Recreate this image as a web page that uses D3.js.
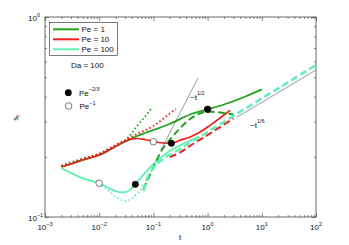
<!DOCTYPE html>
<html>
<head>
<meta charset="utf-8">
<script src="https://cdn.jsdelivr.net/npm/d3@7"></script>
<style>
  body { margin: 0; background: #fff; }
  text { font-family: "Liberation Sans", Arial, Helvetica, sans-serif; fill: #111; }
</style>
</head>
<body>
<script>
// ---- data: [t, s_f] ----
// Pe = 1 (green)
var pe1Full  = [[0.002,0.1778],[0.003,0.1841],[0.005,0.1928],[0.01,0.2042],[0.02,0.2252],[0.03,0.2385],
                [0.04,0.2469],[0.05,0.2541],[0.07,0.2630],[0.1,0.2723],[0.2,0.2917],[0.5,0.3273],
                [1,0.3456],[2,0.3652],[5,0.4004],[10,0.4349]];
var pe1Short = [[0.002,0.1799],[0.005,0.1950],[0.01,0.2065],[0.02,0.2278],[0.03,0.2413],[0.04,0.2630],
                [0.05,0.2851],[0.07,0.3181],[0.09,0.3467]];
var pe1Long  = [[0.065,0.1372],[0.1,0.1768],[0.14,0.2138],[0.2,0.2427],[0.3,0.2754],[0.45,0.3055],
                [0.7,0.3281],[1,0.3369],[1.7,0.3330],[3,0.3255]];
// Pe = 10 (red)
var pe10Full  = [[0.002,0.1778],[0.003,0.1841],[0.005,0.1928],[0.01,0.2042],[0.02,0.2252],[0.03,0.2385],
                 [0.04,0.2455],[0.05,0.2469],[0.07,0.2441],[0.1,0.2385],[0.15,0.2344],[0.215,0.2336],
                 [0.3,0.2413],[0.5,0.2526],[0.7,0.2646],[1,0.2818],[2,0.3236],[2.6,0.3412]];
var pe10Short = [[0.002,0.1809],[0.005,0.1961],[0.01,0.2077],[0.02,0.2291],[0.05,0.2600],[0.1,0.2851],
                 [0.15,0.3090],[0.2,0.3292],[0.26,0.3467]];
var pe10Long  = [[0.2,0.1995],[0.3,0.2089],[0.5,0.2291],[1,0.2570],[2,0.2900],[3,0.3108]];
// Pe = 100 (aquamarine)
var pe100Full  = [[0.002,0.1758],[0.003,0.1660],[0.005,0.1558],[0.01,0.1474],[0.015,0.1396],[0.02,0.1349],
                  [0.025,0.1329],[0.03,0.1329],[0.04,0.1396],[0.0464,0.1457],[0.06,0.1585],[0.07,0.1660],
                  [0.1,0.1841],[0.15,0.2018],[0.2,0.2138],[0.3,0.2265],[0.5,0.2427],[0.7,0.2527]];
var pe100Short = [[0.002,0.1758],[0.005,0.1558],[0.01,0.1462],[0.015,0.1349],[0.02,0.1266],[0.025,0.1216],
                  [0.03,0.1202],[0.04,0.1238],[0.05,0.1311],[0.06,0.1380],[0.065,0.1479]];
var pe100Long  = [[0.066,0.1349],[0.075,0.1531],[0.1,0.1758],[0.15,0.1950],[0.25,0.2113],[0.5,0.2371],
                  [1,0.2661],[3,0.3199],[10,0.3917],[30,0.4705],[100,0.5754]];

// markers: filled = t ~ Pe^-2/3, open = t ~ Pe^-1
var dotsPeTwoThirds = [[0.0464,0.1457],[0.215,0.2336],[1,0.3456]];
var dotsPeOne       = [[0.01,0.1474],[0.1,0.2379],[1,0.3456]];

// power-law guides
var guideHalf  = [[0.138,0.2163],[0.665,0.4955]];
var guideSixth = [[3.44,0.315],[100,0.543]];

var legendLabels = ["Pe = 1", "Pe = 10", "Pe = 100"];
var xTickExp = [-3, -2, -1, 0, 1, 2];
var yTickExp = [-1, 0];

var green = "#22a31c", red = "#f21a1a", aqua = "#66efb5";

var width = 349, height = 245;
var x = d3.scaleLog().domain([1e-3, 1e2]).range([45, 316]);
var y = d3.scaleLog().domain([0.1, 1]).range([217, 17]);

var svg = d3.select("body").append("svg")
    .attr("width", width)
    .attr("height", height);

svg.append("defs").append("clipPath").attr("id", "plotclip")
  .append("rect").attr("x", 45).attr("y", 17).attr("width", 271).attr("height", 200);

// ---- axes (MATLAB style, ticks inward on all sides) ----
var xMinor = [], yMinor = [];
xTickExp.slice(0, -1).forEach(function(e) {
  for (var k = 2; k < 10; k++) xMinor.push(k * Math.pow(10, e));
});
for (var k = 2; k < 10; k++) yMinor.push(k * 0.1);
var xMajor = xTickExp.map(function(e) { return Math.pow(10, e); });
var yMajor = yTickExp.map(function(e) { return Math.pow(10, e); });

function addAxis(gen, vals, len, tr) {
  var g = svg.append("g").attr("transform", tr)
    .call(gen.tickValues(vals).tickSize(len).tickFormat(""));
  g.select(".domain").remove();
  g.selectAll("line").attr("stroke", "#333").attr("stroke-width", 0.6);
}
addAxis(d3.axisBottom(x), xMajor, -4, "translate(0,217)");
addAxis(d3.axisBottom(x), xMinor, -2, "translate(0,217)");
addAxis(d3.axisTop(x), xMajor, -4, "translate(0,17)");
addAxis(d3.axisTop(x), xMinor, -2, "translate(0,17)");
addAxis(d3.axisLeft(y), yMajor, -4, "translate(45,0)");
addAxis(d3.axisLeft(y), yMinor, -2, "translate(45,0)");
addAxis(d3.axisRight(y), yMajor, -4, "translate(316,0)");
addAxis(d3.axisRight(y), yMinor, -2, "translate(316,0)");

svg.append("rect")
  .attr("x", 45).attr("y", 17).attr("width", 271).attr("height", 200)
  .attr("fill", "none").attr("stroke", "#444").attr("stroke-width", 0.8);

// tick labels with superscripts
var xl = svg.selectAll(".xlab").data(xTickExp).enter().append("text")
  .attr("class", "xlab")
  .attr("x", function(d) { return x(Math.pow(10, d)); })
  .attr("y", 230)
  .attr("text-anchor", "middle")
  .style("font-size", "8px");
xl.append("tspan").text("10");
xl.append("tspan").attr("dy", -4).style("font-size", "5.5px")
  .text(function(d) { return d < 0 ? "\u2212" + (-d) : d; });

var yl = svg.selectAll(".ylab").data(yTickExp).enter().append("text")
  .attr("class", "ylab")
  .attr("x", 28)
  .attr("y", function(d) { return y(Math.pow(10, d)) + 3.5; })
  .style("font-size", "8px");
yl.append("tspan").text("10");
yl.append("tspan").attr("dy", -4).style("font-size", "5.5px")
  .text(function(d) { return d < 0 ? "\u2212" + (-d) : d; });

svg.append("text").attr("x", 180).attr("y", 240).attr("text-anchor", "middle")
  .style("font-size", "8px").text("t");
var yt = svg.append("text").attr("transform", "translate(18,118) rotate(-90)")
  .attr("text-anchor", "middle").style("font-size", "8px");
yt.append("tspan").text("s");
yt.append("tspan").attr("dy", 2).style("font-size", "5.5px").text("f");

// ---- curves ----
var line = d3.line()
  .x(function(d) { return x(d[0]); })
  .y(function(d) { return y(d[1]); })
  .curve(d3.curveMonotoneX);

var plot = svg.append("g").attr("clip-path", "url(#plotclip)");

var series = [
  { data: pe1Full,    color: green, w: 1.8, dash: null },
  { data: pe10Full,   color: red,   w: 1.7, dash: null },
  { data: pe100Full,  color: aqua,  w: 1.9, dash: null },
  { data: pe1Short,   color: green, w: 1.8, dash: "1.6,2.4" },
  { data: pe10Short,  color: red,   w: 1.8, dash: "1.6,2.4" },
  { data: pe100Short, color: aqua,  w: 1.8, dash: "1.6,2.4" },
  { data: pe1Long,    color: green, w: 2.0, dash: "7,3.5" },
  { data: pe10Long,   color: red,   w: 2.0, dash: "7,3.5" },
  { data: pe100Long,  color: aqua,  w: 2.6, dash: "7,3.5" }
];

plot.selectAll(".curve").data(series).enter().append("path")
  .attr("class", "curve")
  .attr("d", function(d) { return line(d.data); })
  .attr("fill", "none")
  .attr("stroke", function(d) { return d.color; })
  .attr("stroke-width", function(d) { return d.w; })
  .attr("stroke-dasharray", function(d) { return d.dash; });

var straight = d3.line().x(function(d) { return x(d[0]); }).y(function(d) { return y(d[1]); });
plot.selectAll(".guide").data([guideHalf, guideSixth]).enter().append("path")
  .attr("class", "guide")
  .attr("d", straight)
  .attr("fill", "none").attr("stroke", "#555").attr("stroke-width", 0.6);

svg.append("text").attr("x", 190).attr("y", 100).style("font-size", "8px")
  .call(function(t) {
    t.append("tspan").text("~t");
    t.append("tspan").attr("dy", -5).style("font-size", "5.5px").text("1/2");
  });
svg.append("text").attr("x", 250).attr("y", 128).style("font-size", "8px")
  .call(function(t) {
    t.append("tspan").text("~t");
    t.append("tspan").attr("dy", -5).style("font-size", "5.5px").text("1/6");
  });

// markers
plot.selectAll(".open").data(dotsPeOne).enter().append("circle")
  .attr("cx", function(d) { return x(d[0]); })
  .attr("cy", function(d) { return y(d[1]); })
  .attr("r", 3.3).attr("fill", "#fff").attr("stroke", "#222").attr("stroke-width", 0.6);
plot.selectAll(".filled").data(dotsPeTwoThirds).enter().append("circle")
  .attr("cx", function(d) { return x(d[0]); })
  .attr("cy", function(d) { return y(d[1]); })
  .attr("r", 3.4).attr("fill", "#000");

// ---- legend ----
var legend = svg.append("g");
legend.append("rect").attr("x", 49.5).attr("y", 22.5).attr("width", 68).attr("height", 33)
  .attr("fill", "#fff").attr("stroke", "#222").attr("stroke-width", 0.6);
var legColors = [green, red, aqua];
legendLabels.forEach(function(lab, i) {
  var ly = 29.3 + i * 10;
  legend.append("line").attr("x1", 53).attr("x2", 79).attr("y1", ly).attr("y2", ly)
    .attr("stroke", legColors[i]).attr("stroke-width", 2);
  legend.append("text").attr("x", 81.5).attr("y", ly + 2.8).style("font-size", "8px").text(lab);
});

svg.append("text").attr("x", 71).attr("y", 68).style("font-size", "8px").text("Da = 100");

svg.append("circle").attr("cx", 68.3).attr("cy", 92.7).attr("r", 3.4).attr("fill", "#000");
svg.append("circle").attr("cx", 68.6).attr("cy", 106).attr("r", 3.3)
  .attr("fill", "#fff").attr("stroke", "#222").attr("stroke-width", 0.6);
svg.append("text").attr("x", 79).attr("y", 95.5).style("font-size", "8px")
  .call(function(t) {
    t.append("tspan").text("Pe");
    t.append("tspan").attr("dy", -4.5).style("font-size", "5.5px").text("\u22122/3");
  });
svg.append("text").attr("x", 79.5).attr("y", 109).style("font-size", "8px")
  .call(function(t) {
    t.append("tspan").text("Pe");
    t.append("tspan").attr("dy", -4.5).style("font-size", "5.5px").text("\u22121");
  });
</script>
</body>
</html>
